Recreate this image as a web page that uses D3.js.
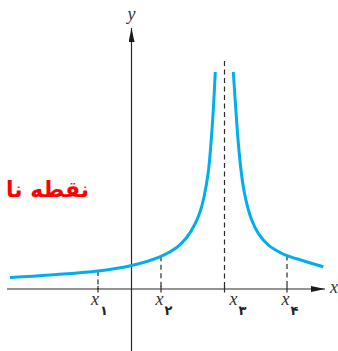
<!DOCTYPE html>
<html>
<head>
<meta charset="utf-8">
<script src="https://cdn.jsdelivr.net/npm/d3@7"></script>
<style>
  html, body { margin: 0; padding: 0; background: #fff; }
  svg { display: block; }
</style>
</head>
<body>
<script>
// ---- data (chart units: origin at axes crossing) ----
const leftBranch = [
  [-12.15, 1.15], [-8.15, 1.4], [-3.35, 1.8], [0, 2.35], [2.95, 3.27],
  [4.52, 4.15], [5.52, 5.15], [6.35, 6.5], [6.85, 7.7], [7.25, 9.2],
  [7.68, 11.7], [7.95, 14.6], [8.18, 17.9], [8.38, 21.7]
];
const rightBranch = [
  [10.18, 21.7], [10.45, 17.7], [10.68, 14.6], [10.95, 11.9],
  [11.18, 10.23], [11.52, 8.57], [12.02, 6.9], [12.68, 5.57],
  [13.68, 4.4], [14.5, 3.85], [15.35, 3.42], [17.02, 2.87], [19.18, 2.23]
];
const xTicks = [-3.35, 2.95, 9.3, 15.55];
const xTickNames = ["x", "x", "x", "x"];
const xTickSubs = ["۱", "۲", "۳", "۴"];
const dropValues = [1.8, 3.27, null, 3.36]; // curve height at each tick (null = asymptote)
const asymptoteX = 9.3;
const asymptoteTop = 22.8;
const axisXRange = [-12.45, 19.35];
const axisYRange = [-6.2, 26.1];
const axisNames = ["x", "y"];
const annotation = "نقطه نا";

// ---- layout ----
const W = 338, H = 351;
const x = d3.scaleLinear().domain([-13.15, 20.65]).range([0, W]);
const y = d3.scaleLinear().domain([-6.2, 28.9]).range([H, 0]);

const svg = d3.select("body").append("svg").attr("width", W).attr("height", H);
const defs = svg.append("defs");
defs.append("marker").attr("id", "arr").attr("viewBox", "0 0 14 6")
  .attr("refX", 14).attr("refY", 3).attr("markerWidth", 14).attr("markerHeight", 6)
  .attr("markerUnits", "userSpaceOnUse").attr("orient", "auto")
  .append("path").attr("d", "M0,0 L14,3 L0,6 Z").attr("fill", "#1a1a1a");

const axisColor = "#2a2a2a";

// axes
svg.append("line")
  .attr("x1", x(axisXRange[0])).attr("x2", x(axisXRange[1]))
  .attr("y1", y(0)).attr("y2", y(0))
  .attr("stroke", axisColor).attr("stroke-width", 1.2).attr("marker-end", "url(#arr)");
svg.append("line")
  .attr("x1", x(0)).attr("x2", x(0))
  .attr("y1", y(axisYRange[0])).attr("y2", y(axisYRange[1]))
  .attr("stroke", axisColor).attr("stroke-width", 1.2).attr("marker-end", "url(#arr)");

// axis names
svg.append("text").attr("x", x(axisXRange[1]) + 9).attr("y", y(0) + 4)
  .attr("text-anchor", "middle").attr("font-family", "'Liberation Serif', serif")
  .attr("font-style", "italic").attr("font-size", 18).attr("fill", "#333").text(axisNames[0]);
svg.append("text").attr("x", x(0)).attr("y", y(axisYRange[1]) - 8)
  .attr("text-anchor", "middle").attr("font-family", "'Liberation Serif', serif")
  .attr("font-style", "italic").attr("font-size", 18).attr("fill", "#333").text(axisNames[1]);

// dashed drop lines, ticks, labels
xTicks.forEach((t, i) => {
  const top = dropValues[i] === null ? asymptoteTop : dropValues[i];
  svg.append("line")
    .attr("x1", x(t)).attr("x2", x(t)).attr("y1", y(top)).attr("y2", y(0))
    .attr("stroke", axisColor).attr("stroke-width", 1.2)
    .attr("stroke-dasharray", "5,3.5");
  svg.append("line")
    .attr("x1", x(t)).attr("x2", x(t)).attr("y1", y(0.3)).attr("y2", y(-0.35))
    .attr("stroke", axisColor).attr("stroke-width", 1.2);
  const shift = (t === asymptoteX) ? 9 : (i === 0 ? -3 : -1.5);
  svg.append("text").attr("x", x(t) + shift).attr("y", y(0) + 16)
    .attr("text-anchor", "middle").attr("font-family", "'Liberation Serif', serif")
    .attr("font-style", "italic").attr("font-size", 18).attr("fill", "#333")
    .text(xTickNames[i]);
  svg.append("text").attr("x", x(t) + shift + 9).attr("y", y(0) + 25.5)
    .attr("text-anchor", "middle").attr("font-family", "'DejaVu Sans', sans-serif")
    .attr("font-weight", "bold").attr("font-size", 13).attr("fill", "#222")
    .text(xTickSubs[i]);
});

// curve
const line = d3.line().x(d => x(d[0])).y(d => y(d[1])).curve(d3.curveCatmullRom.alpha(0.5));
[leftBranch, rightBranch].forEach(b => {
  svg.append("path").attr("d", line(b)).attr("fill", "none")
    .attr("stroke", "#00aeef").attr("stroke-width", 3).attr("stroke-linecap", "butt");
});

// annotation
svg.append("text").attr("x", 47.5).attr("y", 197)
  .attr("text-anchor", "middle").attr("font-family", "'DejaVu Sans', sans-serif")
  .attr("font-weight", "bold").attr("font-size", 22).attr("fill", "#ff0000")
  .text(annotation);
</script>
</body>
</html>
